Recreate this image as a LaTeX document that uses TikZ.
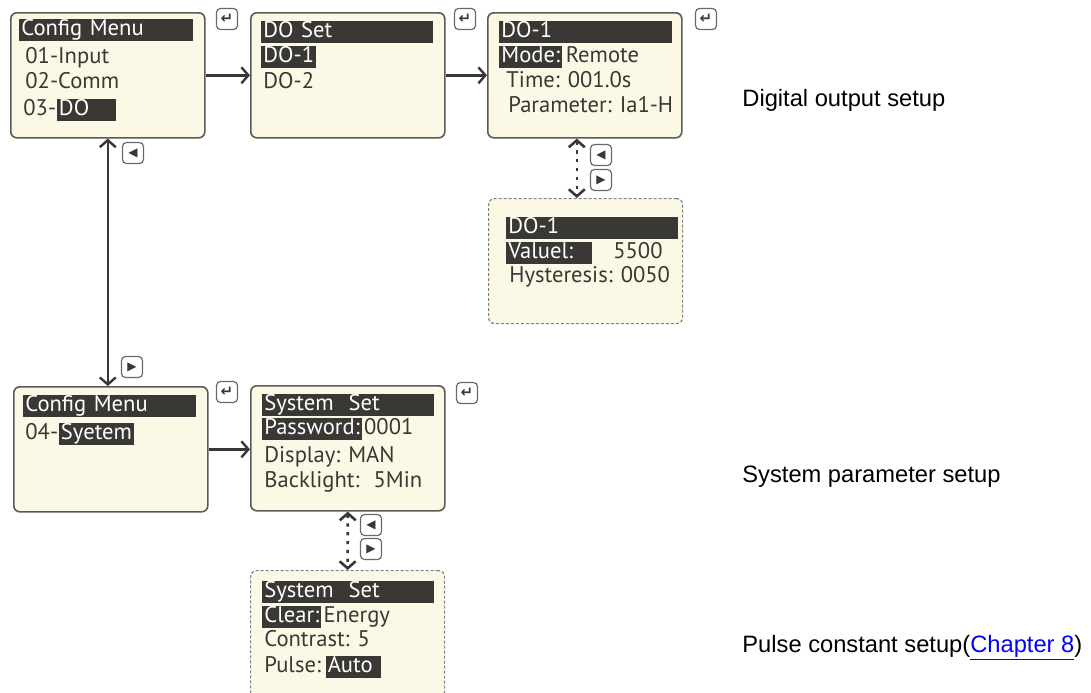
\documentclass[tikz,border=0pt]{standalone}
\usepackage{fontspec}
\setmainfont{Liberation Sans}
\newfontfamily\lcdfont{PT Sans}
\newfontfamily\keyfont{DejaVu Sans}
\usetikzlibrary{arrows.meta}
\definecolor{lcdbg}   {RGB}{251,249,229}
\definecolor{lcdink}  {RGB}{58,56,52}
\definecolor{lcdframe}{RGB}{90,90,86}
\definecolor{keygray} {RGB}{105,105,105}
\definecolor{linkblue}{RGB}{0,0,255}
\tikzset{
    screen/.style={draw=lcdframe, fill=lcdbg, line width=0.8pt, rounded corners=3pt,
             anchor=north west, inner sep=0pt, minimum width=97pt, minimum height=62.5pt},
    subscreen/.style={screen, draw=gray, line width=0.6pt, dash pattern=on 1.5pt off 1pt},
    lcdline/.style={font=\lcdfont\fontsize{11.3}{13}\selectfont, text=lcdink, inner sep=0pt,
             text height=8.2pt, text depth=2.6pt, anchor=west},
    lcdbar/.style={lcdline, fill=lcdink, text=white, inner xsep=1pt, align=left},
    key/.style={draw=keygray, fill=white, rounded corners=2pt, line width=0.6pt,
             minimum size=10.5pt, inner sep=0pt, text=lcdink},
    leftkey/.style={key, font=\keyfont\fontsize{6}{6}\selectfont},
    enterkey/.style={key, font=\keyfont\bfseries\fontsize{7.5}{7.5}\selectfont},
    flow/.style={draw=lcdink, line width=1.2pt, -{Straight Barb[length=3.5pt,width=8pt]}},
    twoway/.style={flow, {Straight Barb[length=3.5pt,width=8pt]}-{Straight Barb[length=3.5pt,width=8pt]}},
    dotway/.style={twoway, line width=1.3pt, dash pattern=on 1.6pt off 2.8pt},
    caption/.style={font=\fontsize{11.85}{14}\selectfont, anchor=west, inner sep=0pt}
  }
\begin{document}
\begin{tikzpicture}[x=0.5pt, y=-0.5pt]
 \useasboundingbox (0,0) rectangle (1091,692);
 % screens
     \node[screen] (cfg) at (10,12) {};
     \node[screen] (doset) at (250,12) {};
     \node[screen] (dopar) at (487,12) {};
     \node[subscreen] (dolim) at (488,198) {};
     \node[screen] (cfgsys) at (13,386) {};
     \node[screen] (sys) at (250,385) {};
     \node[subscreen, minimum height=66pt] (sysmore) at (250,570) {};
 % Config Menu, 01..03
     \node[lcdbar, text width=85pt] (cfgh) at (19,30) {Config Menu};
     \node[lcdline] (cfga) at (25,58) {01-Input};
     \node[lcdline] (cfgb) at (25,83) {02-Comm};
     \node[lcdline] (cfgc) at (23,110) {03-};
     \node[lcdbar, text width=27.5pt] (cfgdo) at (cfgc.east) {DO};
 % DO Set
     \node[lcdbar, text width=84pt] (dosh) at (261,32) {DO Set};
     \node[lcdbar] (dosa) at (261,57) {DO-1};
     \node[lcdline] (dosb) at (263,83) {DO-2};
 % DO-1 parameters
     \node[lcdbar, text width=84.5pt] (doph) at (499,32) {DO-1};
     \node[lcdbar] (dopmode) at (499,57) {Mode:};
     \node[lcdline, xshift=1.5pt] (dopremote) at (dopmode.east) {Remote};
     \node[lcdline] (doptime) at (506,82) {Time: 001.0s};
     \node[lcdline] (dopparam) at (508,107) {Parameter: Ia1-H};
 % DO-1 limits
     \node[lcdbar, text width=84pt] (dolh) at (506,228) {DO-1};
     \node[lcdbar, text width=41pt] (dolval) at (506,253) {Valuel:};
     \node[lcdline, anchor=east] (dolnum) at (663,253) {5500};
     \node[lcdline] (dolhyst) at (509,277) {Hysteresis: 0050};
 % Config Menu, 04
     \node[lcdbar, text width=84.5pt] (cfgsysh) at (23,406) {Config Menu};
     \node[lcdline] (cfgsysa) at (25,434) {04-};
     \node[lcdbar, text width=35.5pt] (cfgsysb) at (cfgsysa.east) {Syetem};
 % System Set
     \node[lcdbar, text width=84pt] (sysh) at (262,405) {System~ Set};
     \node[lcdbar] (syspw) at (262,429) {Password:};
     \node[lcdline, xshift=0.8pt] (syspwv) at (syspw.east) {0001};
     \node[lcdline] (sysdisp) at (264,457) {Display: MAN};
     \node[lcdline] (sysback) at (264,482) {Backlight:~ 5Min};
 % System Set, page 2
     \node[lcdbar, text width=84pt] (sysmh) at (262,592) {System~ Set};
     \node[lcdbar] (sysclr) at (262,617) {Clear:};
     \node[lcdline, xshift=0.8pt] (sysclrv) at (sysclr.east) {Energy};
     \node[lcdline] (syscon) at (264,641) {Contrast: 5};
     \node[lcdline] (syspul) at (264,667) {Pulse:};
     \node[lcdbar, xshift=2pt, text width=25.5pt] (syspulv) at (syspul.east) {Auto};
 % keys
     \node[enterkey] (entera) at (227,19) {↵};
     \node[enterkey] (enterb) at (465,19) {↵};
     \node[enterkey] (enterc) at (706,19) {↵};
     \node[enterkey] (enterd) at (227,392) {↵};
     \node[enterkey] (entere) at (467,393) {↵};
     \node[leftkey] (lefta) at (133,153) {◀};
     \node[leftkey] (righta) at (132,367) {▶};
     \node[leftkey] (leftb) at (601,155) {◀};
     \node[leftkey] (rightb) at (601,180) {▶};
     \node[leftkey] (leftc) at (371,525) {◀};
     \node[leftkey] (rightc) at (371,549) {▶};
 % connectors
     \draw[flow] (cfg) -- (doset);
     \draw[flow] (doset) -- (dopar);
     \draw[twoway] (cfg.south) -- (cfg.south |- cfgsys.north);
     \draw[flow] (cfgsys.east) -- (cfgsys.east -| sys.west);
     \draw[dotway] ([xshift=-4pt]dopar.south) -- ([xshift=-4pt]dopar.south |- dolim.north);
     \draw[dotway] (sys.south) -- (sysmore.north);
 % captions
     \node[caption] (capdo) at (742,100) {Digital output setup};
     \node[caption] (capsys) at (742,477) {System parameter setup};
     \node[caption] (cappulse) at (742,648) {Pulse constant setup(\textcolor{linkblue}{\underline{Chapter 8}})};
\end{tikzpicture}
\end{document}
